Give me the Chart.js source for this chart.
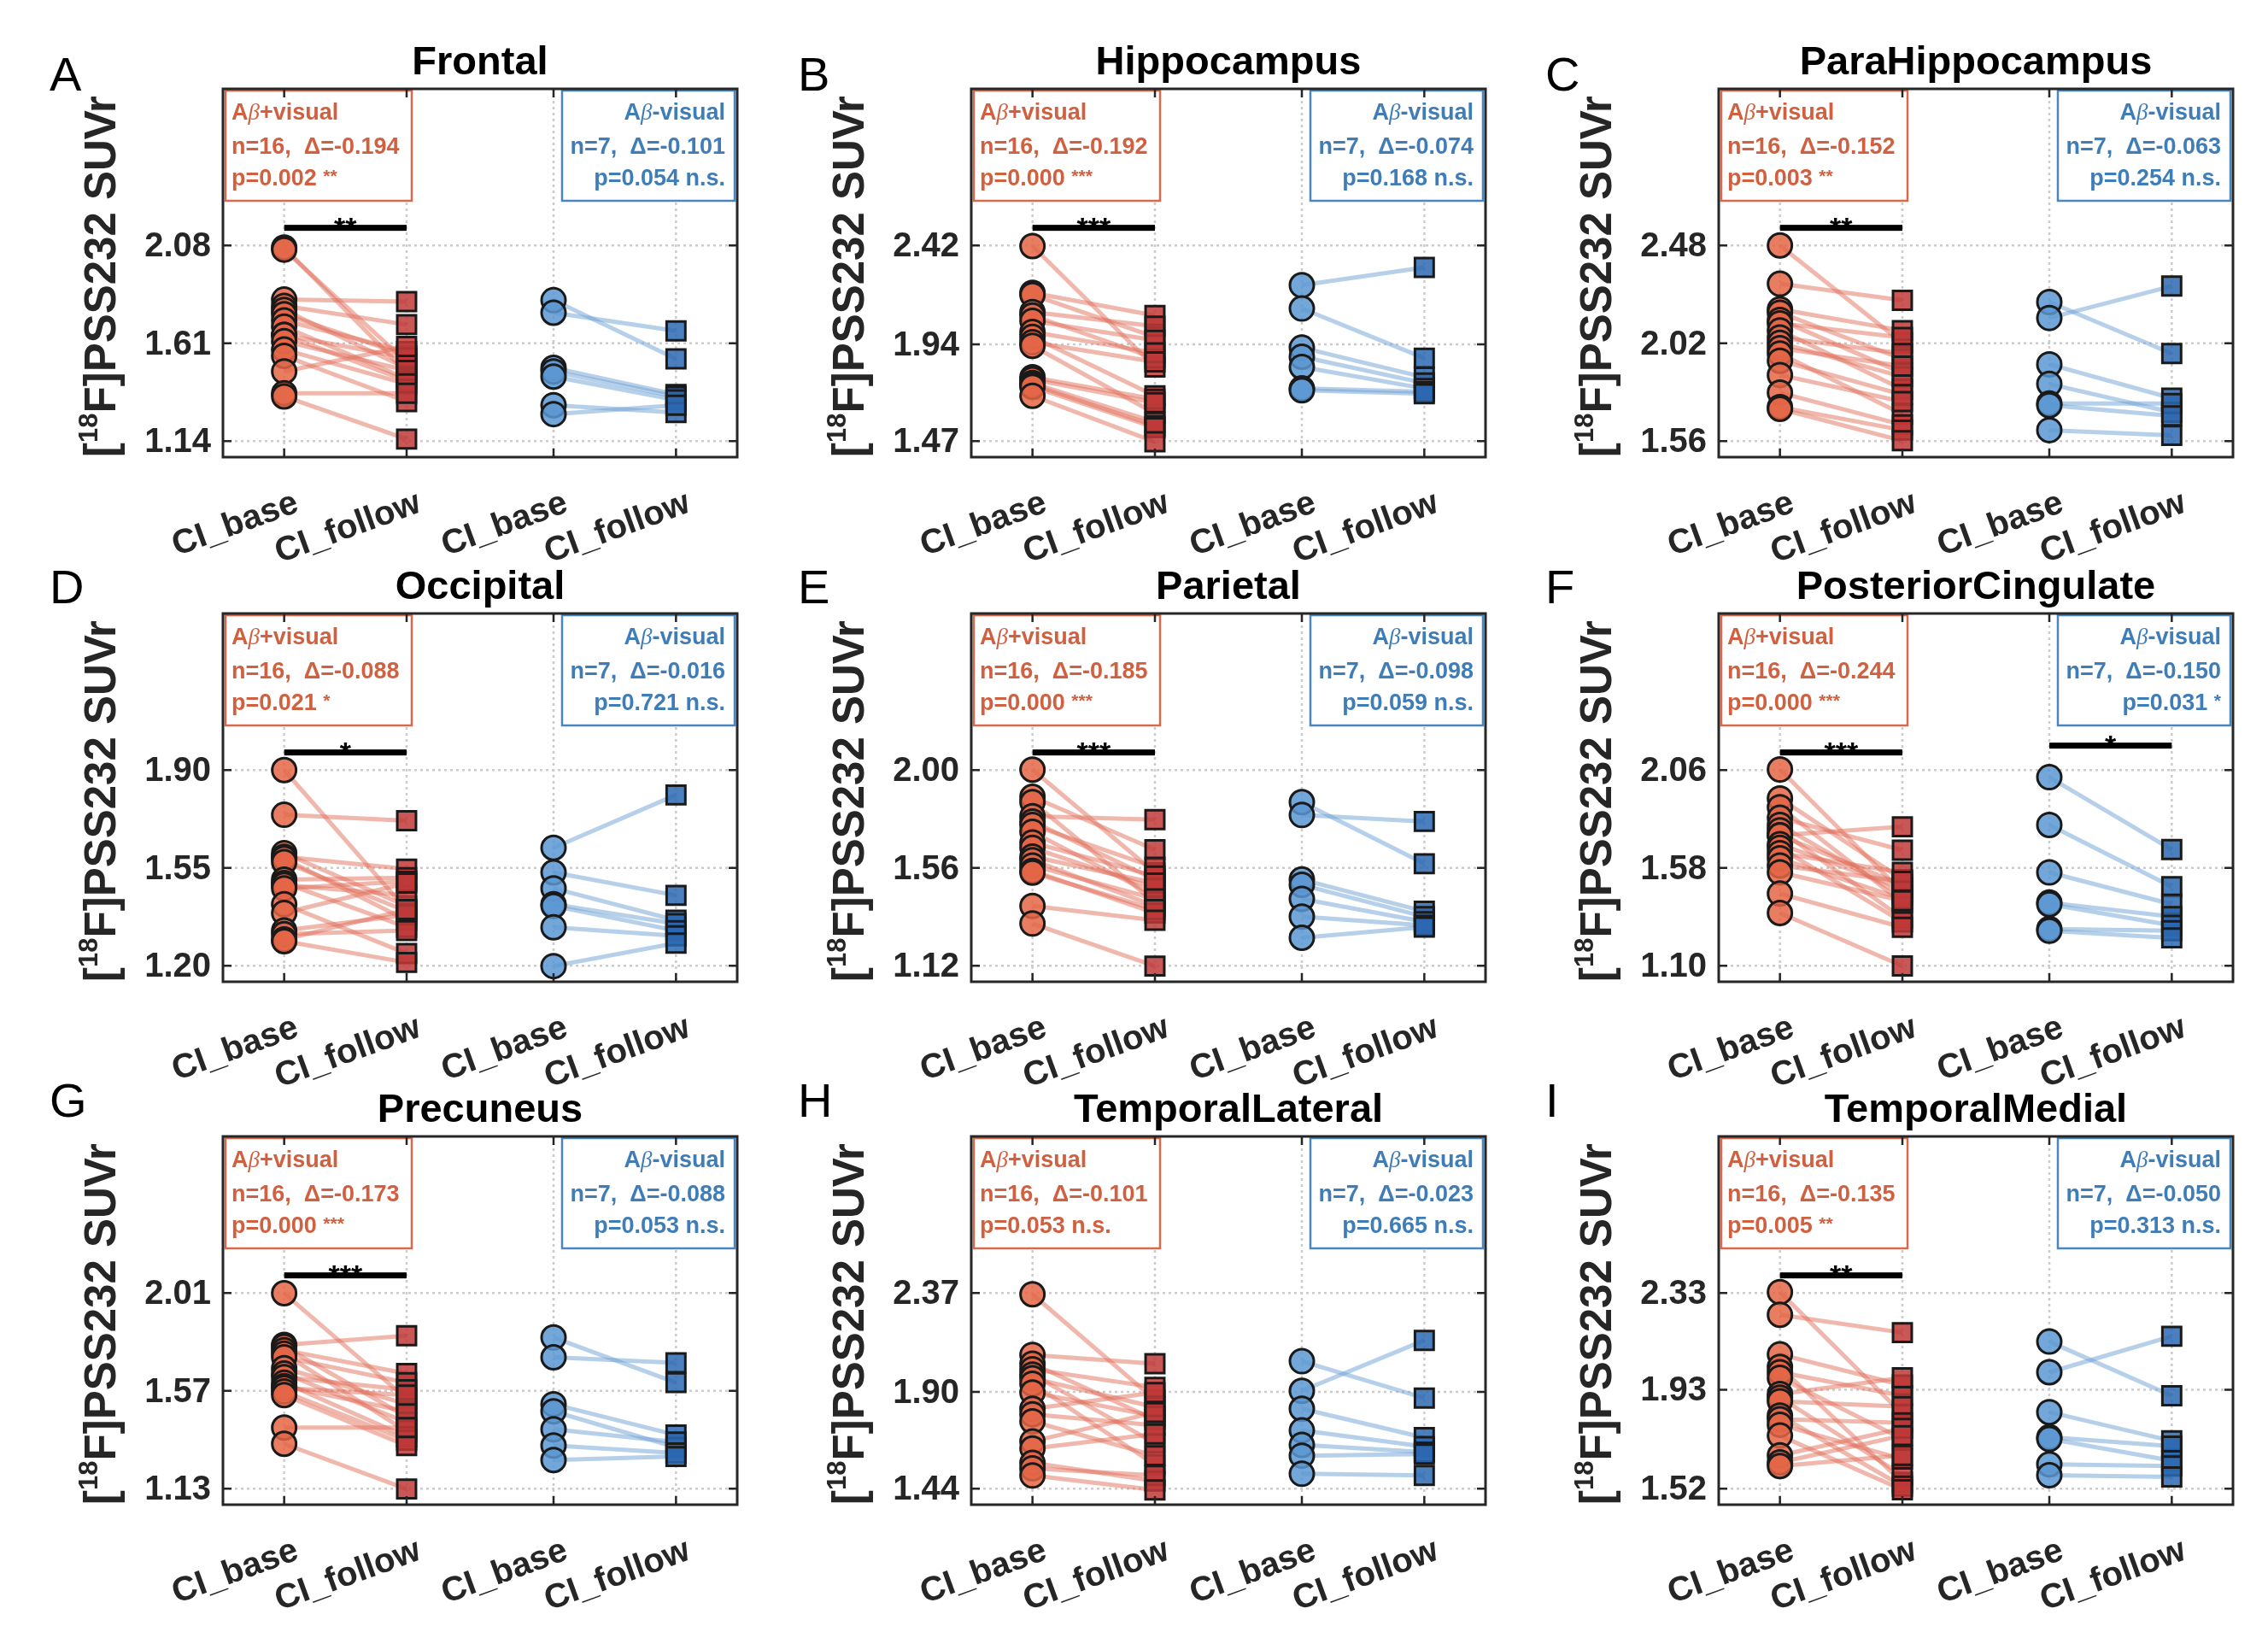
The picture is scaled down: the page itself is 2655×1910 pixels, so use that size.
<!DOCTYPE html>
<html>
<head>
<meta charset="utf-8">
<script src="https://cdn.jsdelivr.net/npm/chart.js@4.4.0/dist/chart.umd.min.js"></script>
<style>
  body { margin: 0; background: #fff; width: 2655px; height: 1910px; position: relative; overflow: hidden; }
  canvas { position: absolute; }
</style>
</head>
<body>
<script>
// ---- data ----
const regions = ['Frontal', 'Hippocampus', 'ParaHippocampus', 'Occipital', 'Parietal',
  'PosteriorCingulate', 'Precuneus', 'TemporalLateral', 'TemporalMedial'];
const letters = ['A', 'B', 'C', 'D', 'E', 'F', 'G', 'H', 'I'];
const yTicks = [
  [1.14, 1.61, 2.08], [1.47, 1.94, 2.42], [1.56, 2.02, 2.48],
  [1.20, 1.55, 1.90], [1.12, 1.56, 2.00], [1.10, 1.58, 2.06],
  [1.13, 1.57, 2.01], [1.44, 1.90, 2.37], [1.52, 1.93, 2.33]
];
const xPos = [1, 2, 3.2, 4.2];
const xLabels = ['CI_base', 'CI_follow', 'CI_base', 'CI_follow'];

const redBase = [
  [2.07, 2.06, 1.82, 1.79, 1.77, 1.75, 1.72, 1.69, 1.65, 1.65, 1.62, 1.58, 1.55, 1.475, 1.37, 1.355],
  [2.417, 2.19, 2.18, 2.097, 2.08, 2.054, 2.00, 1.976, 1.95, 1.933, 1.78, 1.77, 1.752, 1.743, 1.734, 1.69],
  [2.48, 2.30, 2.18, 2.164, 2.13, 2.114, 2.08, 2.047, 2.022, 1.997, 1.972, 1.938, 1.871, 1.788, 1.72, 1.712],
  [1.90, 1.74, 1.603, 1.59, 1.584, 1.571, 1.508, 1.496, 1.489, 1.477, 1.42, 1.389, 1.326, 1.313, 1.294, 1.288],
  [2.002, 1.88, 1.856, 1.793, 1.769, 1.753, 1.722, 1.674, 1.65, 1.611, 1.595, 1.571, 1.547, 1.539, 1.389, 1.31],
  [2.063, 1.921, 1.878, 1.826, 1.791, 1.765, 1.74, 1.739, 1.696, 1.679, 1.653, 1.627, 1.592, 1.558, 1.454, 1.359],
  [2.009, 1.777, 1.769, 1.753, 1.737, 1.721, 1.672, 1.648, 1.632, 1.607, 1.591, 1.583, 1.567, 1.551, 1.405, 1.332],
  [2.364, 2.076, 2.034, 2.008, 1.982, 1.965, 1.939, 1.897, 1.82, 1.794, 1.76, 1.665, 1.631, 1.563, 1.537, 1.503],
  [2.334, 2.24, 2.076, 2.024, 2.002, 1.979, 1.912, 1.897, 1.882, 1.823, 1.808, 1.785, 1.74, 1.658, 1.629, 1.614]
];
const redFollow = [
  [1.47, 1.52, 1.81, 1.70, 1.49, 1.55, 1.57, 1.44, 1.54, 1.43, 1.48, 1.415, 1.33, 1.595, 1.37, 1.15],
  [1.83, 2.08, 1.976, 2.028, 1.873, 1.96, 1.899, 1.69, 1.855, 1.605, 1.674, 1.657, 1.562, 1.545, 1.536, 1.467],
  [2.022, 2.222, 2.08, 1.946, 1.88, 2.047, 1.804, 1.972, 1.863, 1.913, 1.687, 1.779, 1.746, 1.637, 1.612, 1.562],
  [1.40, 1.719, 1.414, 1.546, 1.363, 1.395, 1.515, 1.338, 1.452, 1.502, 1.244, 1.496, 1.382, 1.326, 1.401, 1.212],
  [1.539, 1.642, 1.405, 1.777, 1.508, 1.563, 1.436, 1.524, 1.468, 1.492, 1.389, 1.421, 1.357, 1.373, 1.325, 1.119],
  [1.462, 1.523, 1.41, 1.667, 1.445, 1.333, 1.782, 1.497, 1.48, 1.315, 1.558, 1.428, 1.514, 1.419, 1.289, 1.099],
  [1.534, 1.818, 1.453, 1.648, 1.388, 1.607, 1.51, 1.429, 1.575, 1.364, 1.478, 1.551, 1.348, 1.324, 1.405, 1.129],
  [1.862, 2.034, 1.768, 1.922, 1.657, 1.828, 1.554, 1.785, 1.897, 1.742, 1.597, 1.802, 1.70, 1.477, 1.503, 1.434],
  [1.83, 2.166, 1.949, 1.546, 1.905, 1.726, 1.979, 1.576, 1.86, 1.531, 1.793, 1.643, 1.516, 1.77, 1.74, 1.658]
];
const blueBase = [
  [1.817, 1.757, 1.492, 1.475, 1.45, 1.313, 1.27],
  [2.227, 2.114, 1.924, 1.88, 1.83, 1.726, 1.717],
  [2.214, 2.139, 1.921, 1.829, 1.737, 1.729, 1.612],
  [1.622, 1.534, 1.477, 1.42, 1.414, 1.338, 1.199],
  [1.856, 1.798, 1.508, 1.484, 1.421, 1.341, 1.246],
  [2.025, 1.791, 1.558, 1.41, 1.402, 1.281, 1.272],
  [1.81, 1.721, 1.51, 1.478, 1.397, 1.324, 1.259],
  [2.046, 1.905, 1.82, 1.717, 1.648, 1.597, 1.511],
  [2.129, 2.002, 1.837, 1.733, 1.726, 1.621, 1.576]
];
const blueFollow = [
  [1.535, 1.67, 1.364, 1.355, 1.338, 1.278, 1.313],
  [2.313, 1.873, 1.78, 1.752, 1.726, 1.71, 1.70],
  [1.972, 2.289, 1.762, 1.696, 1.737, 1.679, 1.587],
  [1.811, 1.452, 1.363, 1.351, 1.326, 1.307, 1.281],
  [1.579, 1.769, 1.365, 1.341, 1.318, 1.302, 1.294],
  [1.67, 1.488, 1.402, 1.341, 1.298, 1.272, 1.237],
  [1.607, 1.696, 1.372, 1.316, 1.34, 1.291, 1.275],
  [1.871, 2.145, 1.683, 1.64, 1.614, 1.605, 1.503],
  [1.905, 2.151, 1.718, 1.696, 1.636, 1.614, 1.569]
];
const redDelta = ['-0.194', '-0.192', '-0.152', '-0.088', '-0.185', '-0.244', '-0.173', '-0.101', '-0.135'];
const redP = ['0.002', '0.000', '0.003', '0.021', '0.000', '0.000', '0.000', '0.053', '0.005'];
const blueDelta = ['-0.101', '-0.074', '-0.063', '-0.016', '-0.098', '-0.150', '-0.088', '-0.023', '-0.050'];
const blueP = ['0.054', '0.168', '0.254', '0.721', '0.059', '0.031', '0.053', '0.665', '0.313'];

// ---- layout ----
const colLeft = [0, 876, 1751];
const rowTop = [0, 614, 1226];
const letterBase = [106, 92, 81];
const CW = 876, CH = 680;
const PAD = { left: 261, top: 104, right: 13, bottom: 145 };
const FONT = "'Liberation Sans', Arial, sans-serif";

const RED_TXT = '#D0603F', RED_BOX = '#D8694C';
const BLUE_TXT = '#3F7DB9', BLUE_BOX = '#4A86C0';
const INK = '#262626';

function stars(p) {
  const v = parseFloat(p);
  if (v < 0.001) return '***';
  if (v < 0.01) return '**';
  if (v < 0.05) return '*';
  return 'n.s.';
}

function seg(ctx, parts, x, y, align) {
  // parts: [text, font, dy]
  let w = 0;
  parts.forEach(p => { ctx.font = p[1]; w += ctx.measureText(p[0]).width; });
  let cx = align === 'right' ? x - w : align === 'center' ? x - w / 2 : x;
  ctx.textAlign = 'left';
  parts.forEach(p => {
    ctx.font = p[1];
    ctx.fillText(p[0], cx, y + (p[2] || 0));
    cx += ctx.measureText(p[0]).width;
  });
}

const panelDecor = {
  id: 'panelDecor',
  beforeDatasetsDraw(chart, args, opts) {
    const { ctx, chartArea: a, scales: { x, y } } = chart;
    ctx.save();
    ctx.strokeStyle = '#cccccc';
    ctx.lineWidth = 2.5;
    ctx.setLineDash([3, 4]);
    ctx.beginPath();
    y.ticks.forEach(t => {
      const py = y.getPixelForValue(t.value);
      ctx.moveTo(a.left, py); ctx.lineTo(a.right, py);
    });
    x.ticks.forEach(t => {
      const px = x.getPixelForValue(t.value);
      ctx.moveTo(px, a.top); ctx.lineTo(px, a.bottom);
    });
    ctx.stroke();
    ctx.setLineDash([]);

    // annotation boxes
    const i = opts.idx;
    ctx.fillStyle = '#fff';
    ctx.lineWidth = 2.5;
    ctx.strokeStyle = RED_BOX;
    ctx.fillRect(a.left + 3, a.top + 2, 218, 129);
    ctx.strokeRect(a.left + 3, a.top + 2, 218, 129);
    ctx.strokeStyle = BLUE_BOX;
    ctx.fillRect(a.right - 205, a.top + 2, 202, 129);
    ctx.strokeRect(a.right - 205, a.top + 2, 202, 129);

    const bold = 'bold 27px ' + FONT;
    const beta = "italic 27px 'Liberation Serif', serif";
    ctx.textBaseline = 'middle';
    const rs = stars(redP[i]);
    const bs = stars(blueP[i]);
    const sfont = 'bold 21px ' + FONT;
    ctx.fillStyle = RED_TXT;
    const lx = a.left + 10;
    seg(ctx, [['A', bold], ['\u03B2', beta], ['+visual', bold]], lx, a.top + 29, 'left');
    seg(ctx, [['n=16,  \u0394=' + redDelta[i], bold]], lx, a.top + 69, 'left');
    seg(ctx, [['p=' + redP[i] + ' ', bold], rs === 'n.s.' ? [rs, bold] : [rs, sfont, -3]], lx, a.top + 106, 'left');
    ctx.fillStyle = BLUE_TXT;
    const rx = a.right - 14;
    seg(ctx, [['A', bold], ['\u03B2', beta], ['-visual', bold]], rx, a.top + 29, 'right');
    seg(ctx, [['n=7,  \u0394=' + blueDelta[i], bold]], rx, a.top + 69, 'right');
    seg(ctx, [['p=' + blueP[i] + ' ', bold], bs === 'n.s.' ? [bs, bold] : [bs, sfont, -3]], rx, a.top + 106, 'right');
    ctx.restore();
  },
  afterDatasetsDraw(chart, args, opts) {
    const { ctx, chartArea: a, scales: { x, y } } = chart;
    const i = opts.idx;
    const tk = yTicks[i];
    const d = (tk[2] - tk[0]) / 2;
    ctx.save();

    // frame and inward ticks
    ctx.strokeStyle = INK;
    ctx.lineWidth = 3;
    ctx.strokeRect(a.left, a.top, a.right - a.left, a.bottom - a.top);
    ctx.lineWidth = 2.5;
    ctx.beginPath();
    y.ticks.forEach(t => {
      const py = y.getPixelForValue(t.value);
      ctx.moveTo(a.left, py); ctx.lineTo(a.left + 10, py);
      ctx.moveTo(a.right, py); ctx.lineTo(a.right - 10, py);
    });
    x.ticks.forEach(t => {
      const px = x.getPixelForValue(t.value);
      ctx.moveTo(px, a.bottom); ctx.lineTo(px, a.bottom - 10);
      ctx.moveTo(px, a.top); ctx.lineTo(px, a.top + 10);
    });
    ctx.stroke();

    // y tick labels
    ctx.fillStyle = INK;
    ctx.font = 'bold 40px ' + FONT;
    ctx.textAlign = 'right';
    ctx.textBaseline = 'middle';
    y.ticks.forEach(t => {
      ctx.fillText(t.value.toFixed(2), a.left - 14, y.getPixelForValue(t.value) + 2);
    });

    // x tick labels, rotated
    ctx.font = 'bold 40px ' + FONT;
    ctx.textBaseline = 'top';
    x.ticks.forEach((t, k) => {
      const px = x.getPixelForValue(t.value);
      ctx.save();
      ctx.translate(px + 8, a.bottom + 34);
      ctx.rotate(-20 * Math.PI / 180);
      ctx.textAlign = 'right';
      ctx.fillText(xLabels[k], 0, 0);
      ctx.restore();
    });

    // y axis title
    ctx.save();
    ctx.translate(a.left - 140, (a.top + a.bottom) / 2 + 4);
    ctx.rotate(-Math.PI / 2);
    ctx.textBaseline = 'middle';
    ctx.fillStyle = INK;
    const yf = 'bold 51px ' + FONT;
    seg(ctx, [['[', yf], ['18', 'bold 31px ' + FONT, -16], ['F]PSS232 SUVr', yf]], 0, 0, 'center');
    ctx.restore();

    // title and panel letter
    ctx.fillStyle = '#000';
    ctx.textBaseline = 'alphabetic';
    ctx.textAlign = 'center';
    ctx.font = 'bold 47px ' + FONT;
    ctx.fillText(regions[i], (a.left + a.right) / 2, a.top - 17);
    ctx.textAlign = 'left';
    ctx.font = '56px ' + FONT;
    ctx.fillText(letters[i], a.left - 203, letterBase[Math.floor(i / 3)]);

    // significance bars
    const bar = (x1, x2, yv, s) => {
      const p1 = x.getPixelForValue(x1), p2 = x.getPixelForValue(x2);
      const py = y.getPixelForValue(yv);
      ctx.fillStyle = '#000';
      ctx.fillRect(p1, py - 3.5, p2 - p1, 7);
      ctx.font = 'bold 34px ' + FONT;
      ctx.textAlign = 'center';
      ctx.textBaseline = 'alphabetic';
      ctx.fillText(s, (p1 + p2) / 2, py + 11);
    };
    if (stars(redP[i]) !== 'n.s.') bar(xPos[0], xPos[1], tk[2] + 0.18 * d, stars(redP[i]));
    if (stars(blueP[i]) !== 'n.s.') bar(xPos[2], xPos[3], tk[2] + 0.25 * d, stars(blueP[i]));
    ctx.restore();
  }
};

function buildPanel(i) {
  const r = Math.floor(i / 3), c = i % 3;
  const cv = document.createElement('canvas');
  cv.width = CW; cv.height = CH;
  cv.style.left = colLeft[c] + 'px';
  cv.style.top = rowTop[r] + 'px';
  document.body.appendChild(cv);

  const tk = yTicks[i];
  const d = (tk[2] - tk[0]) / 2;
  const datasets = [];
  redBase[i].forEach((b, k) => datasets.push({
    data: [{ x: xPos[0], y: b }, { x: xPos[1], y: redFollow[i][k] }],
    showLine: true, borderColor: 'rgba(226,112,92,0.5)', borderWidth: 5,
    pointRadius: 0, order: 3
  }));
  blueBase[i].forEach((b, k) => datasets.push({
    data: [{ x: xPos[2], y: b }, { x: xPos[3], y: blueFollow[i][k] }],
    showLine: true, borderColor: 'rgba(112,162,214,0.5)', borderWidth: 5,
    pointRadius: 0, order: 3
  }));
  const marker = (vals, xv, style, fill, rad) => ({
    data: vals.map(v => ({ x: xv, y: v })),
    pointStyle: style, pointRadius: rad, backgroundColor: fill,
    borderColor: '#1a1a1a', borderWidth: 3, order: 1
  });
  datasets.push(marker(redFollow[i], xPos[1], 'rect', 'rgba(192,58,56,0.85)', 15.5));
  datasets.push(marker(redBase[i], xPos[0], 'circle', 'rgba(228,102,70,0.85)', 14));
  datasets.push(marker(blueFollow[i], xPos[3], 'rect', 'rgba(44,104,178,0.85)', 15.5));
  datasets.push(marker(blueBase[i], xPos[2], 'circle', 'rgba(92,152,210,0.85)', 14));

  new Chart(cv, {
    type: 'scatter',
    data: { datasets: datasets },
    options: {
      responsive: false,
      animation: false,
      events: [],
      layout: { padding: PAD, autoPadding: false },
      plugins: { legend: { display: false }, tooltip: { enabled: false }, panelDecor: { idx: i } },
      scales: {
        x: {
          type: 'linear', min: 0.5, max: 4.7,
          grid: { display: false }, border: { display: false }, ticks: { display: false },
          afterBuildTicks: s => { s.ticks = xPos.map(v => ({ value: v })); },
          afterFit: s => { s.height = 0; }
        },
        y: {
          type: 'linear', min: tk[0] - 0.163 * d, max: tk[2] + 1.6 * d,
          grid: { display: false }, border: { display: false }, ticks: { display: false },
          afterBuildTicks: s => { s.ticks = tk.map(v => ({ value: v })); },
          afterFit: s => { s.width = 0; }
        }
      }
    },
    plugins: [panelDecor]
  });
}

for (let i = 0; i < 9; i++) buildPanel(i);
</script>
</body>
</html>
